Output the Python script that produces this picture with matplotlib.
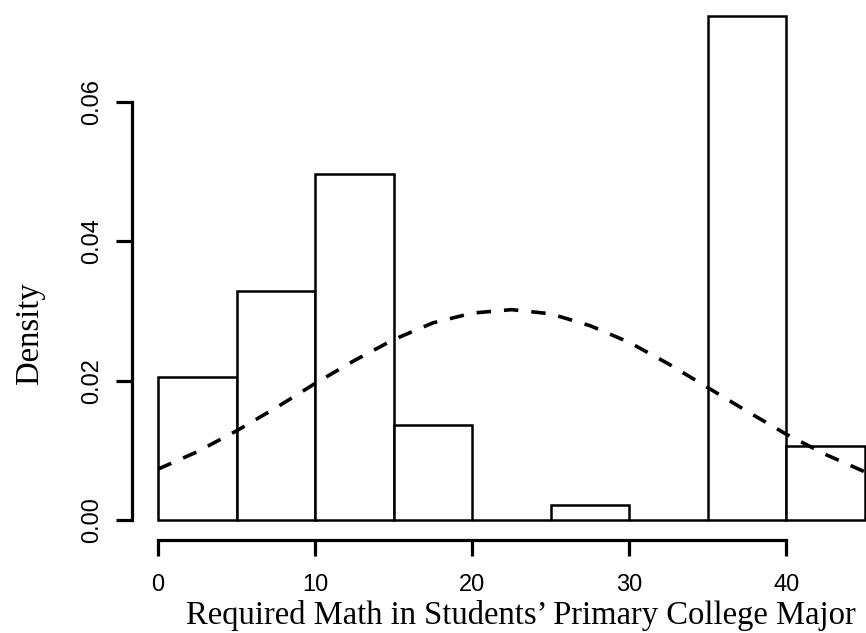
import numpy as np
import matplotlib.pyplot as plt

# Histogram bins (left edges) and densities
bin_left = [0, 5, 10, 15, 20, 25, 30, 35, 40]
density = [0.0205, 0.0329, 0.0497, 0.0136, 0.0, 0.0022, 0.0, 0.0723, 0.0106]
bin_width = 5

# Fitted normal density, read at every 2.5 units
curve_x = [0, 2.5, 5, 7.5, 10, 12.5, 15, 17.5, 20, 22.5,
           25, 27.5, 30, 32.5, 35, 37.5, 40, 42.5, 45]
curve_y = [0.0073, 0.0098, 0.0128, 0.0161, 0.0196, 0.0229, 0.0259, 0.0283, 0.0297, 0.0302,
           0.0296, 0.0279, 0.0255, 0.0224, 0.0190, 0.0156, 0.0123, 0.0094, 0.0069]

x_ticks = [0, 10, 20, 30, 40]
y_ticks = [0.00, 0.02, 0.04, 0.06]
y_ticklabels = ['0.00', '0.02', '0.04', '0.06']

fig = plt.figure(figsize=(8.66, 6.33), dpi=100)
ax = fig.add_axes([158/866, 1 - 520/633, 707/866, 505/633])

ax.bar(bin_left, density, width=bin_width, align='edge', color='white',
       edgecolor='black', linewidth=1.8, clip_on=False, zorder=2)
ax.plot(curve_x, curve_y, color='black', linewidth=2.6, dashes=(4, 3.6),
        clip_on=False, zorder=3)

ax.set_xlim(0, 45)
ax.set_ylim(0, 0.0725)

for s in ['top', 'right']:
    ax.spines[s].set_visible(False)
ax.spines['left'].set_position(('outward', 18.7))
ax.spines['bottom'].set_position(('outward', 14.4))
ax.spines['left'].set_bounds(0, 0.06)
ax.spines['bottom'].set_bounds(0, 40)
ax.spines['left'].set_linewidth(2.3)
ax.spines['bottom'].set_linewidth(2.3)

ax.set_xticks(x_ticks)
ax.set_yticks(y_ticks)
ax.set_yticklabels(y_ticklabels, rotation=90, va='center')
ax.tick_params(axis='both', length=11.5, width=2.3, labelsize=17)
ax.tick_params(axis='x', pad=13)
ax.tick_params(axis='y', pad=9)
for lab in ax.get_xticklabels() + ax.get_yticklabels():
    lab.set_family('Liberation Sans')

ax.set_xlabel("Required Math in Students\u2019 Primary College Major",
              family='Liberation Serif', fontsize=23.5)
ax.xaxis.set_label_coords(0.513, -0.158)
ax.set_ylabel('Density', family='Liberation Serif', fontsize=23.5)
ax.yaxis.set_label_coords(-0.16, 0.37)

fig.savefig('out.png', dpi=100)
